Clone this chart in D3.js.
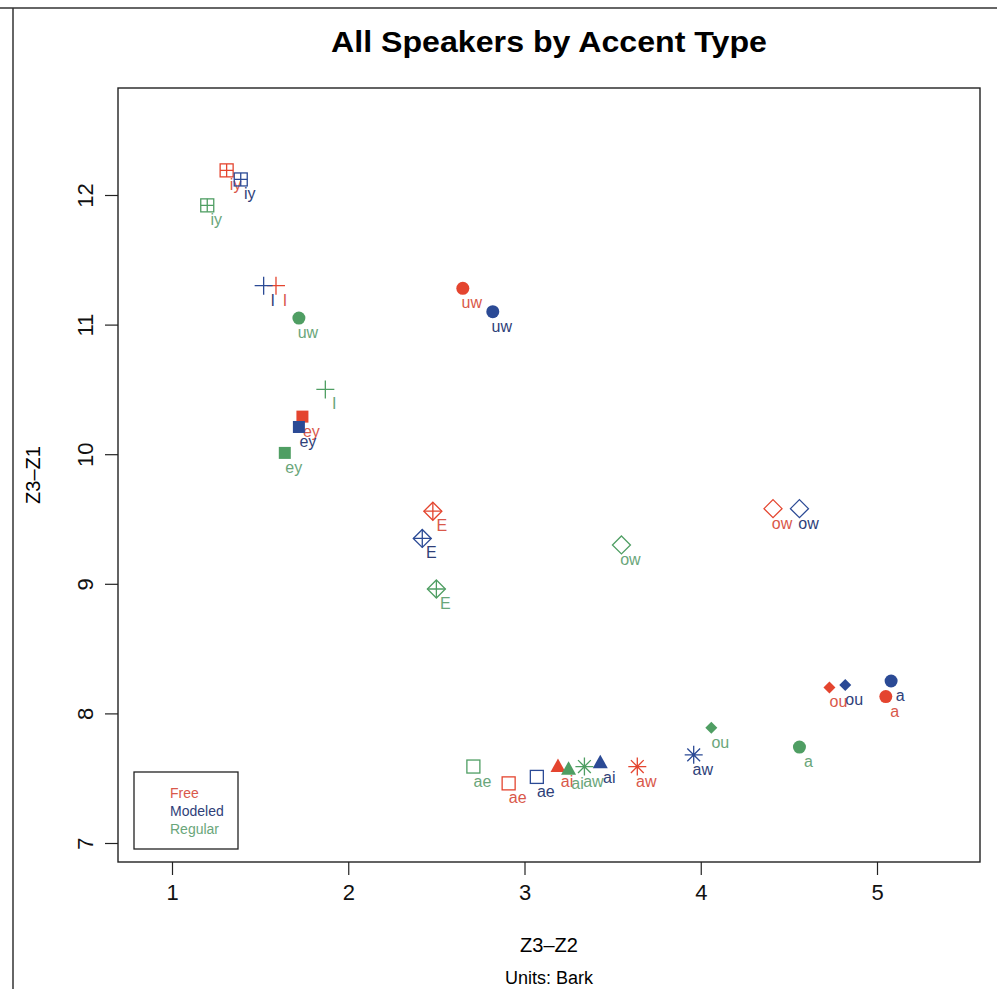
<!DOCTYPE html>
<html>
<head>
<meta charset="utf-8">
<script src="https://cdn.jsdelivr.net/npm/d3@7"></script>
<style>
  html, body { margin: 0; padding: 0; background: #fff; }
  svg { display: block; font-family: "Liberation Sans", Arial, sans-serif; }
</style>
</head>
<body>
<svg id="chart"></svg>
<script>
// vowel categories, one point per accent type
var vowels = ["iy", "I", "uw", "ey", "E", "ow", "ou", "a", "aw", "ai", "ae"]
var groups = ["Free", "Modeled", "Regular"]

// Z3-Z2 (x) and Z3-Z1 (y), in Bark
var freeX    = [1.31, 1.59, 2.65, 1.74, 2.48, 4.41, 4.73, 5.05, 3.64, 3.19, 2.91]
var freeY    = [12.19, 11.30, 11.28, 10.29, 9.56, 9.58, 8.20, 8.13, 7.59, 7.59, 7.46]
var modeledX = [1.39, 1.52, 2.82, 1.72, 2.42, 4.56, 4.82, 5.08, 3.96, 3.43, 3.07]
var modeledY = [12.12, 11.30, 11.10, 10.21, 9.35, 9.58, 8.22, 8.25, 7.68, 7.62, 7.51]
var regularX = [1.20, 1.87, 1.72, 1.64, 2.50, 3.55, 4.06, 4.56, 3.34, 3.25, 2.71]
var regularY = [11.92, 10.50, 11.05, 10.01, 8.96, 9.30, 7.89, 7.74, 7.59, 7.57, 7.59]

var xTicks = [1, 2, 3, 4, 5]
var yTicks = [7, 8, 9, 10, 11, 12]

// plotting symbol per vowel (R pch style)
var vowelShape = ["squarePlus", "plus", "circle", "squareFill", "diamondPlus", "diamond",
                  "diamondFill", "circle", "star", "triangle", "square"]

var markColor = {Free: "#e4452f", Modeled: "#2b4a95", Regular: "#4f9e63"}
var textColor = {Free: "#d9584a", Modeled: "#2f3f79", Regular: "#6aa67a"}

var width = 997, height = 989
var box = {left: 118, top: 88, right: 980, bottom: 862}

var svg = d3.select("#chart").attr("width", width).attr("height", height)

var x = d3.scaleLinear().domain([1, 5]).range([172, 877])
var y = d3.scaleLinear().domain([7, 12]).range([843, 195])

// page frame from the scan
svg.append("line").attr("x1", 0).attr("x2", width).attr("y1", 8).attr("y2", 8)
  .attr("stroke", "#333").attr("stroke-width", 1.5)
svg.append("line").attr("x1", 13).attr("x2", 13).attr("y1", 8).attr("y2", height)
  .attr("stroke", "#333").attr("stroke-width", 1.5)

svg.append("text")
  .attr("x", 549).attr("y", 52)
  .attr("text-anchor", "middle")
  .attr("font-size", 30).attr("font-weight", "bold")
  .attr("textLength", 436).attr("lengthAdjust", "spacingAndGlyphs")
  .text("All Speakers by Accent Type")

svg.append("rect")
  .attr("x", box.left).attr("y", box.top)
  .attr("width", box.right - box.left).attr("height", box.bottom - box.top)
  .attr("fill", "none").attr("stroke", "#222").attr("stroke-width", 1.4)

// axes
var xAxis = svg.append("g")
  .attr("transform", `translate(0,${box.bottom})`)
  .call(d3.axisBottom(x).tickValues(xTicks).tickFormat(d3.format("d")).tickSize(13).tickPadding(9))
xAxis.select(".domain").remove()
xAxis.selectAll("line").attr("stroke", "#222").attr("stroke-width", 1.2)
xAxis.selectAll("text").attr("font-size", 22).attr("fill", "#111")
  .attr("font-family", "Liberation Sans, Arial, sans-serif")

var yAxis = svg.append("g")
  .attr("transform", `translate(${box.left},0)`)
  .call(d3.axisLeft(y).tickValues(yTicks).tickFormat(d3.format("d")).tickSize(13))
yAxis.select(".domain").remove()
yAxis.selectAll("line").attr("stroke", "#222").attr("stroke-width", 1.2)
yAxis.selectAll("text")
  .attr("font-size", 22).attr("fill", "#111")
  .attr("font-family", "Liberation Sans, Arial, sans-serif")
  .attr("text-anchor", "middle")
  .attr("x", 0).attr("dy", null)
  .attr("transform", "translate(-25,0) rotate(-90)")

svg.append("text")
  .attr("transform", `translate(40,${(box.top + box.bottom) / 2}) rotate(-90)`)
  .attr("text-anchor", "middle")
  .attr("font-size", 20)
  .text("Z3\u2013Z1")

svg.append("text")
  .attr("x", (box.left + box.right) / 2).attr("y", 952)
  .attr("text-anchor", "middle").attr("font-size", 20)
  .text("Z3\u2013Z2")
svg.append("text")
  .attr("x", (box.left + box.right) / 2).attr("y", 984)
  .attr("text-anchor", "middle").attr("font-size", 18)
  .text("Units: Bark")

// build points
var series = {Free: [freeX, freeY], Modeled: [modeledX, modeledY], Regular: [regularX, regularY]}
var points = []
groups.forEach(g => {
  vowels.forEach((v, i) => {
    points.push({group: g, vowel: v, shape: vowelShape[i], x: series[g][0][i], y: series[g][1][i]})
  })
})

function drawSymbol(sel, d) {
  var c = markColor[d.group]
  var s = 6.5
  if (d.shape == "circle") {
    sel.append("circle").attr("r", 6.5).attr("fill", c)
  } else if (d.shape == "squareFill") {
    sel.append("rect").attr("x", -6).attr("y", -6).attr("width", 12).attr("height", 12).attr("fill", c)
  } else if (d.shape == "square" || d.shape == "squarePlus") {
    sel.append("rect").attr("x", -s).attr("y", -s).attr("width", 2 * s).attr("height", 2 * s)
      .attr("fill", "none").attr("stroke", c).attr("stroke-width", 1.3)
    if (d.shape == "squarePlus")
      sel.append("path").attr("d", `M${-s},0H${s}M0,${-s}V${s}`).attr("stroke", c).attr("stroke-width", 1.3)
  } else if (d.shape == "plus") {
    sel.append("path").attr("d", "M-9,0H9M0,-9V9").attr("stroke", c).attr("stroke-width", 1.3)
  } else if (d.shape == "diamond" || d.shape == "diamondPlus") {
    var r = 9
    sel.append("path").attr("d", `M0,${-r}L${r},0L0,${r}L${-r},0Z`)
      .attr("fill", "none").attr("stroke", c).attr("stroke-width", 1.3)
    if (d.shape == "diamondPlus")
      sel.append("path").attr("d", `M${-r},0H${r}M0,${-r}V${r}`).attr("stroke", c).attr("stroke-width", 1.3)
  } else if (d.shape == "diamondFill") {
    sel.append("path").attr("d", "M0,-6L6,0L0,6L-6,0Z").attr("fill", c)
  } else if (d.shape == "star") {
    sel.append("path").attr("d", "M-9,0H9M0,-9V9M-6.4,-6.4L6.4,6.4M-6.4,6.4L6.4,-6.4")
      .attr("stroke", c).attr("stroke-width", 1.3)
  } else if (d.shape == "triangle") {
    sel.append("path").attr("d", "M0,-8L7.5,5.5L-7.5,5.5Z").attr("fill", c)
  }
}

var pts = svg.append("g").selectAll("g.pt").data(points).join("g")
  .attr("class", "pt")
  .attr("transform", d => `translate(${x(d.x)},${y(d.y)})`)

pts.each(function (d) { drawSymbol(d3.select(this), d) })

pts.append("text")
  .attr("x", 9).attr("y", 20)
  .attr("text-anchor", "middle")
  .attr("font-size", 16)
  .attr("fill", d => textColor[d.group])
  .text(d => d.vowel)

// legend, text only
var legend = svg.append("g")
legend.append("rect")
  .attr("x", 134).attr("y", 772).attr("width", 104).attr("height", 77)
  .attr("fill", "#fff").attr("stroke", "#222").attr("stroke-width", 1.3)
legend.selectAll("text").data(groups).join("text")
  .attr("x", 170).attr("y", (d, i) => 798 + i * 18)
  .attr("font-size", 14)
  .attr("fill", d => textColor[d])
  .text(d => d)
</script>
</body>
</html>
